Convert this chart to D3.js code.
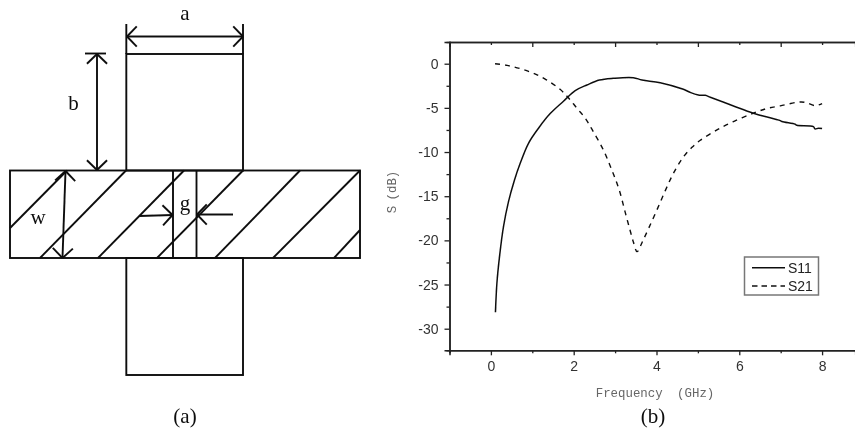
<!DOCTYPE html>
<html>
<head>
<meta charset="utf-8">
<script src="https://cdn.jsdelivr.net/npm/d3@7/dist/d3.min.js"></script>
<style>
html,body{margin:0;padding:0;background:#fff}
svg{display:block}
.tick text{font-family:"Liberation Sans",Arial,sans-serif;font-size:14px;fill:#333}
</style>
</head>
<body>
<div id="chart"></div>
<script>
// Plot (b) data
const s11Freq = [0.11,0.145,0.208,0.304,0.425,0.57,0.708,0.908,1.15,1.432,1.753,2.036,2.32,2.62,2.96,3.44,3.65,4.09,4.65,4.81,5.01,5.18,5.3,5.86,6.34,6.99,7.03,7.35,7.39,7.79,7.83,7.91,8];
const s11Db = [-28.14,-24.86,-21.85,-18.45,-15.62,-13.17,-11.28,-9.01,-7.3,-5.65,-4.25,-3.05,-2.41,-1.85,-1.65,-1.58,-1.85,-2.15,-2.9,-3.24,-3.54,-3.58,-3.8,-4.78,-5.6,-6.44,-6.55,-6.85,-6.97,-7.12,-7.38,-7.3,-7.34];
const s21Freq = [0.1,0.39,0.71,1.03,1.35,1.67,1.87,2.08,2.28,2.45,2.72,2.92,3.1,3.24,3.36,3.44,3.53,3.66,3.81,4.01,4.21,4.41,4.65,4.85,5.05,5.46,5.86,6.34,6.66,6.99,7.39,7.59,7.83,8];
const s21Db = [0,-0.19,-0.56,-1.09,-1.85,-2.9,-3.85,-5.05,-6.18,-7.5,-9.8,-12.03,-14.3,-16.75,-18.83,-20.15,-21.28,-20.15,-18.64,-16.56,-14.4,-12.4,-10.55,-9.5,-8.7,-7.5,-6.55,-5.6,-5.08,-4.78,-4.37,-4.37,-4.75,-4.52];
const xMajorTicks = [0,2,4,6,8];
const xMinorTicks = [-1,1,3,5,7];
const yMajorTicks = [0,-5,-10,-15,-20,-25,-30];
const yMinorTicks = [-2.5,-7.5,-12.5,-17.5,-22.5,-27.5];
const seriesNames = ["S11","S21"];

const W = 855, H = 428;
const svg = d3.select("#chart").append("svg").attr("width",W).attr("height",H).attr("viewBox",`0 0 ${W} ${H}`);
const defs = svg.append("defs");
defs.append("filter").attr("id","soft").attr("x","-5%").attr("y","-5%").attr("width","110%").attr("height","110%")
  .append("feGaussianBlur").attr("stdDeviation",0.35);
const root = svg.append("g").attr("filter","url(#soft)");

// ---------- Panel (a): schematic ----------
const a = root.append("g").attr("fill","none").attr("stroke","#111").attr("stroke-width",1.9);
const seg = (x1,y1,x2,y2,g=a)=>g.append("line").attr("x1",x1).attr("y1",y1).attr("x2",x2).attr("y2",y2);
const rect = (x,y,w,h)=>a.append("rect").attr("x",x).attr("y",y).attr("width",w).attr("height",h);
const armL = 126.3, armR = 243, midT = 170.5, midB = 258;
rect(10,midT,350,midB-midT);
rect(armL,54,armR-armL,midT-54);
rect(armL,midB,armR-armL,375-midB);
seg(armL,24,armL,54); seg(armR,24,armR,54);
[[10,228,67,170.5],[40,258,126,170.5],[98,258,184,170.5],[157,258,243,170.5],[215,258,300,170.5],[273,258,360,170.5],[334,258,360,230]]
  .forEach(h=>seg(...h));
seg(173,midT,173,midB); seg(196.5,midT,196.5,midB);
function arrow(x1,y1,x2,y2,size,both){
  seg(x1,y1,x2,y2);
  const head=(px,py,qx,qy)=>{
    const t=Math.atan2(py-qy,px-qx);
    [-0.8,0.8].forEach(d=>seg(px,py,px-size*Math.cos(t+d),py-size*Math.sin(t+d)));
  };
  head(x2,y2,x1,y1);
  if(both) head(x1,y1,x2,y2);
}
arrow(127,36.5,243,36.5,14,true);
arrow(97,54,97,170,14,true);
seg(85,53.5,106,53.5);
arrow(65.5,171,62.5,258,14,true);
arrow(139.5,216,172.5,215,14,false);
arrow(233,214.5,197,214.5,14,false);

const serif = root.append("g").attr("font-family",'"Liberation Serif","Times New Roman",serif').attr("fill","#111").attr("text-anchor","middle");
[["a",185,20],["b",73.5,110],["w",38,224],["g",185,210]].forEach(t=>
  serif.append("text").attr("x",t[1]).attr("y",t[2]).attr("font-size",21).text(t[0]));
serif.append("text").attr("x",185).attr("y",423).attr("font-size",21).text("(a)");
serif.append("text").attr("x",653).attr("y",423).attr("font-size",21).text("(b)");

// ---------- Panel (b): plot ----------
const x = d3.scaleLinear().domain([-1,8.8]).range([449.5,855.2]);
const y = d3.scaleLinear().domain([0,-30]).range([63.7,328.7]);
const yTop = y.invert(42), yBot = y.invert(350.3);
y.domain([yTop,yBot]).range([42,350.3]);
const plot = root.append("g");

function styleAxis(g){ g.select(".domain").attr("stroke","#222").attr("stroke-width",1.5);
  g.selectAll(".tick line").attr("stroke","#222").attr("stroke-width",1.3); }

// bottom
plot.append("g").attr("transform",`translate(0,${y.range()[1]})`)
  .call(d3.axisBottom(x).tickValues(xMajorTicks).tickSize(5).tickPadding(6).tickFormat(d3.format("d")))
  .call(styleAxis);
plot.append("g").attr("transform",`translate(0,${y.range()[1]})`)
  .call(d3.axisBottom(x).tickValues(xMinorTicks).tickSize(3).tickFormat(""))
  .call(styleAxis);
// top (inward ticks, long at odd values)
plot.append("g").attr("transform",`translate(0,${y.range()[0]})`)
  .call(d3.axisBottom(x).tickValues(xMinorTicks).tickSize(5).tickFormat(""))
  .call(styleAxis);
plot.append("g").attr("transform",`translate(0,${y.range()[0]})`)
  .call(d3.axisBottom(x).tickValues(xMajorTicks).tickSize(3).tickFormat(""))
  .call(styleAxis);
// left
const fmtY = d=>String(d);
plot.append("g").attr("transform",`translate(${x(-1)},0)`)
  .call(d3.axisLeft(y).tickValues(yMajorTicks).tickSize(5).tickPadding(6).tickFormat(fmtY))
  .call(styleAxis);
plot.append("g").attr("transform",`translate(${x(-1)},0)`)
  .call(d3.axisLeft(y).tickValues(yMinorTicks).tickSize(3).tickFormat(""))
  .call(styleAxis);

const line = d3.line().x(d=>x(d[0])).y(d=>y(d[1])).curve(d3.curveCatmullRom.alpha(0.5));
const s11 = d3.zip(s11Freq,s11Db), s21 = d3.zip(s21Freq,s21Db);
plot.append("path").datum(s11).attr("d",line).attr("fill","none").attr("stroke","#111").attr("stroke-width",1.5);
plot.append("path").datum(s21).attr("d",line).attr("fill","none").attr("stroke","#111").attr("stroke-width",1.4).attr("stroke-dasharray","5 5");

const mono = '"Liberation Mono","DejaVu Sans Mono",monospace';
plot.append("text").attr("x",655).attr("y",397).attr("text-anchor","middle").attr("word-spacing",7)
  .attr("font-family",mono).attr("font-size",12.4).attr("fill","#666").text("Frequency (GHz)");
plot.append("text").attr("transform","translate(396,192) rotate(-90)").attr("text-anchor","middle").attr("word-spacing",-2)
  .attr("font-family",mono).attr("font-size",12.4).attr("fill","#666").text("S (dB)");

// legend
const lg = plot.append("g");
lg.append("rect").attr("x",744.5).attr("y",257).attr("width",74).attr("height",38).attr("fill","#fff").attr("stroke","#777").attr("stroke-width",1.5);
seriesNames.forEach((n,i)=>{
  const yy = 267.7 + i*18.3;
  lg.append("line").attr("x1",752).attr("x2",785).attr("y1",yy).attr("y2",yy).attr("stroke","#111").attr("stroke-width",1.4)
    .attr("stroke-dasharray",i? "5.5 4":null);
  lg.append("text").attr("x",788).attr("y",yy+5).attr("font-family",'"Liberation Sans",Arial,sans-serif').attr("font-size",14).attr("fill","#222").text(n);
});
</script>
</body>
</html>
